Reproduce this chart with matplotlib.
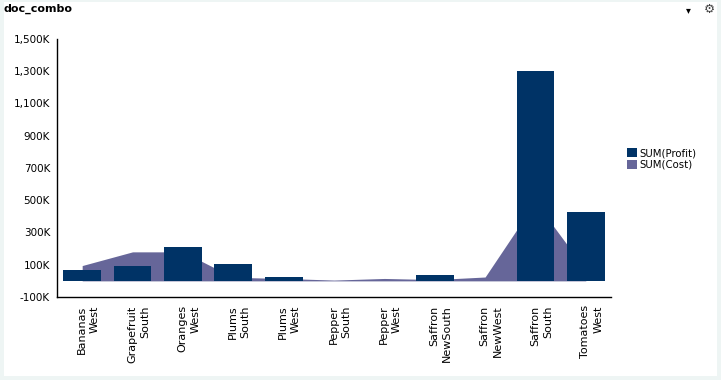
import matplotlib

matplotlib.use("Agg")
import matplotlib.pyplot as plt
from matplotlib.patches import Rectangle
from matplotlib.ticker import FuncFormatter

# values in thousands
categories = ["Bananas\nWest", "Grapefruit\nSouth", "Oranges\nWest", "Plums\nSouth",
              "Plums\nWest", "Pepper\nSouth", "Pepper\nWest", "Saffron\nNewSouth",
              "Saffron\nNewWest", "Saffron\nSouth", "Tomatoes\nWest"]
profit = [68, 93, 211, 107, 25, 0, 0, 35, 0, 1300, 428]
cost = [95, 180, 180, 22, 15, 5, 15, 8, 24, 490, 68]
yticks = list(range(-100, 1501, 200))

PROFIT_COLOR = "#003366"
COST_COLOR = "#666699"
LABEL_NUDGE = 0.12  # category labels sit a bit right of the bar centres
plt.rcParams["font.family"] = ["DejaVu Sans"]

fig = plt.figure(figsize=(7.21, 3.8), dpi=100, facecolor="#eef5f4")
# white panel behind the chart (zorder below the axes)
fig.patches.append(Rectangle((4 / 721, 4 / 380), 713 / 721, 374 / 380,
                             transform=fig.transFigure, facecolor="white",
                             edgecolor="none", zorder=-5))
fig.text(4 / 721, 1 - 9 / 380, "doc_combo", fontsize=8, fontweight="bold",
         va="center", ha="left")
fig.text(688 / 721, 1 - 10 / 380, "\u25be", fontsize=7, va="center", ha="center")
fig.text(709 / 721, 1 - 9 / 380, "\u2699", fontsize=9, va="center", ha="center",
         color="#444444")

ax = fig.add_axes([57 / 721, 83 / 380, 554 / 721, 258 / 380])
ax.set_facecolor("none")
x = list(range(len(categories)))

ax.fill_between(x, 0, cost, color=COST_COLOR, linewidth=0, zorder=1, label="SUM(Cost)")
ax.bar(x, profit, width=0.75, color=PROFIT_COLOR, zorder=2, label="SUM(Profit)")

ax.set_xlim(-0.5, len(categories) - 0.5)
ax.set_ylim(-100, 1500)
ax.set_yticks(yticks)
ax.yaxis.set_major_formatter(FuncFormatter(lambda v, _: f"{int(v):,}K"))
ax.set_xticks([i + LABEL_NUDGE for i in x])
ax.set_xticklabels(categories, rotation=90, ha="center", va="top",
                   multialignment="right", fontsize=8, linespacing=1.35)
ax.tick_params(axis="both", length=0, pad=5)
ax.tick_params(axis="y", labelsize=7.5)
ax.tick_params(axis="x", pad=6)

for side in ("top", "right"):
    ax.spines[side].set_visible(False)
for side in ("left", "bottom"):
    ax.spines[side].set_linewidth(1)
    ax.spines[side].set_color("black")

handles, labels = ax.get_legend_handles_labels()
order = [labels.index("SUM(Profit)"), labels.index("SUM(Cost)")]
fig.legend([handles[i] for i in order], [labels[i] for i in order],
           loc="upper left", bbox_to_anchor=(620 / 721, 1 - 141 / 380),
           frameon=False, fontsize=7.3, handlelength=1.0, handleheight=1.0,
           handletextpad=0.25, labelspacing=0.15, borderpad=0.2)

fig.savefig("out.png", dpi=100, facecolor=fig.get_facecolor())
